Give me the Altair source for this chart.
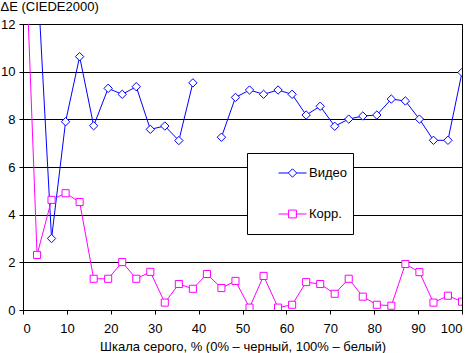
import altair as alt
import pandas as pd

FONT = "Liberation Sans, Arial, sans-serif"

x_vals = [0, 3.2, 6.5, 9.7, 12.9, 16.1, 19.4, 22.6, 25.8, 29.0, 32.3, 35.5, 38.7,
          41.9, 45.2, 48.4, 51.6, 54.8, 58.1, 61.3, 64.5, 67.7, 71.0, 74.2, 77.4,
          80.6, 83.9, 87.1, 90.3, 93.5, 96.8, 100]
video = [20.0, 14.3, 3.0, 7.9, 10.63, 7.73, 9.3, 9.05, 9.37, 7.58, 7.72, 7.11, 9.53,
         None, 7.25, 8.92, 9.23, 9.05, 9.23, 9.05, 8.18, 8.55, 7.71, 8.01, 8.14,
         8.18, 8.85, 8.77, 8.01, 7.12, 7.12, 9.97]
korr = [18.0, 2.31, 4.62, 4.90, 4.53, 1.31, 1.31, 2.01, 1.31, 1.60, 0.31, 1.09, 0.89,
        1.51, 0.92, 1.22, 0.10, 1.43, 0.10, 0.22, 1.17, 1.09, 0.68, 1.31, 0.56,
        0.22, 0.18, 1.93, 1.59, 0.31, 0.60, 0.35]

series_names = ["Видео", "Корр."]
series_colors = ["#0000FF", "#FF00FF"]
x_ticks = [0, 10, 20, 30, 40, 50, 60, 70, 80, 90, 100]
y_ticks = [0, 2, 4, 6, 8, 10, 12]

# legend symbols: line with diamond / square in the middle
legend_paths = [
    "M-1,0L-0.3,0M0.3,0L1,0M-0.3,0L0,-0.3L0.3,0L0,0.3Z",
    "M-1,0L-0.28,0M0.28,0L1,0M-0.28,-0.28L0.28,-0.28L0.28,0.28L-0.28,0.28Z",
]

rows = []
for name, vals in zip(series_names, [video, korr]):
    for xv, yv in zip(x_vals, vals):
        rows.append({"x": xv, "y": yv, "series": name})
df = pd.DataFrame(rows)

x_enc = alt.X("x:Q", scale=alt.Scale(domain=[0, 100], nice=False),
              axis=alt.Axis(values=x_ticks, grid=False, tickSize=4, labelPadding=8,
                            title="Шкала серого, % (0% – черный, 100% – белый)",
                            titleY=40, titleBaseline="alphabetic"))
y_enc = alt.Y("y:Q", scale=alt.Scale(domain=[0, 12], nice=False, zero=False),
              axis=alt.Axis(values=y_ticks, grid=True, tickSize=4, labelPadding=4,
                            title="ΔE (CIEDE2000)", titleAngle=0, titleAlign="left",
                            titleBaseline="alphabetic", titleX=-23, titleY=-14))

shape_expr = ("datum.value == '" + series_names[0] + "' ? '" + legend_paths[0]
              + "' : '" + legend_paths[1] + "'")

leg = alt.Legend(
    title=None, orient="none", legendX=224, legendY=129,
    fillColor="white", strokeColor="black", padding=6,
    symbolType={"expr": shape_expr},
    symbolSize=784, symbolStrokeWidth=1, symbolOffset=25, labelOffset=2,
    clipHeight=28, rowPadding=13, labelFontSize=13, labelFont=FONT, labelColor="black",
    labelExpr="datum.label + '     '",
)

base = alt.Chart(df)

lines = base.mark_line(strokeWidth=1, clip=True, invalid="break-paths-filter-domains").encode(
    x=x_enc, y=y_enc,
    color=alt.Color("series:N", scale=alt.Scale(domain=series_names, range=series_colors),
                    legend=leg),
)

pts_video = base.transform_filter(alt.datum.series == series_names[0]).mark_point(
    shape="diamond", size=70, filled=True, fill="white", stroke=series_colors[0],
    strokeWidth=1, opacity=1, clip=True).encode(x="x:Q", y="y:Q")

pts_korr = base.transform_filter(alt.datum.series == series_names[1]).mark_point(
    shape="square", size=50, filled=True, fill="white", stroke=series_colors[1],
    strokeWidth=1, opacity=1, clip=True).encode(x="x:Q", y="y:Q")

chart = alt.layer(lines, pts_video, pts_korr).properties(
    width=439, height=286,
    autosize=alt.AutoSizeParams(type="none"),
    padding={"left": 23, "top": 24, "right": 10, "bottom": 43},
    background="white",
).configure_axis(
    domainColor="black", tickColor="black", gridColor="black", gridOpacity=1,
    labelColor="black", titleColor="black", labelFont=FONT, titleFont=FONT,
    labelFontSize=13, titleFontSize=13, titleFontWeight="normal",
    domainWidth=1, gridWidth=1, tickWidth=1,
).configure_view(stroke="black", strokeWidth=1)

chart.save("out.html", embed_options={"renderer": "svg", "actions": False})
